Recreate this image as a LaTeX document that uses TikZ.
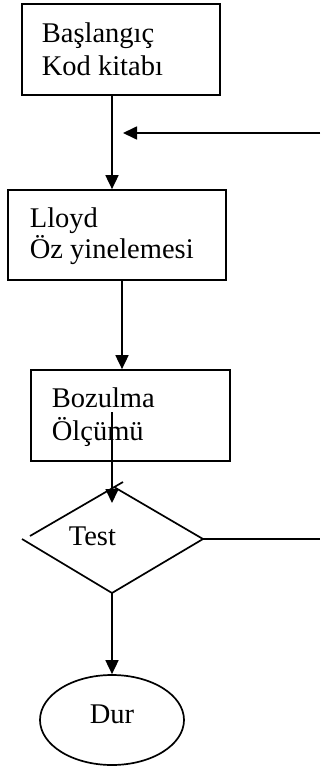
\documentclass[tikz,border=0pt]{standalone}
\usepackage{fontspec}
\setmainfont{Liberation Serif}
\usetikzlibrary{arrows.meta,shapes.geometric}

\begin{document}
\begin{tikzpicture}[x=1pt,y=-1pt,
  line width=1.7pt,
  box/.style={draw, rectangle, inner sep=0pt},
  txt/.style={inner sep=0pt, anchor=base west, font=\fontsize{28.5}{32}\selectfont},
  arr/.style={-{Triangle[length=14pt,width=13pt]}},
  endnode/.style={draw, ellipse, inner sep=0pt}]

  \useasboundingbox (0,0) rectangle (321,771);

  % guide columns for the vertical connectors
  \coordinate (axis) at (112,0);
  \coordinate (axisb) at (122,0);

  % process boxes
  \node[box, minimum width=198pt, minimum height=91pt] (init) at (121,49.5) {};
  \node[box, minimum width=218pt, minimum height=90pt] (lloyd) at (117,235) {};
  \node[box, minimum width=199pt, minimum height=91pt] (dist) at (130.5,415.5) {};

  \node[txt] (initA) at (41,42) {Başlangıç};
  \node[txt] (initB) at (41,75) {Kod kitabı};
  \node[txt] (lloydA) at (29,227) {Lloyd};
  \node[txt] (lloydB) at (29,258) {Öz yinelemesi};
  \node[txt] (distA) at (51,407) {Bozulma};
  \node[txt] (distB) at (51,440) {Ölçümü};

  % decision diamond, drawn edge by edge
  \coordinate (dT) at (114,487);
  \coordinate (dR) at (203,539);
  \coordinate (dB) at (112,593);
  \coordinate (dL) at (22,539);
  \coordinate (dLu) at (30,536);
  \coordinate (dTx) at (123,482);
  \draw (dLu) -- (dTx);
  \draw (dT) -- (dR) -- (dB) -- (dL);
  \node[txt] (test) at (68,545) {Test};

  % stop
  \node[endnode, minimum width=144pt, minimum height=90pt] (stop) at (112,720) {};
  \node[inner sep=0pt, anchor=base, font=\fontsize{28.5}{32}\selectfont] (stopT) at (112,723) {Dur};

  % connectors
  \draw[arr] (init.south -| axis) -- (lloyd.north -| axis);
  \draw[arr] (lloyd.south -| axisb) -- (dist.north -| axisb);
  \coordinate (inner) at (112,412);
  \coordinate (dtip) at (112,503);
  \draw[arr] (inner) -- (dtip);
  \draw[arr] (dB) -- (stop.north);

  % loop-back lines
  \coordinate (fbin) at (320,133);
  \coordinate (fbtip) at (123,133);
  \draw[arr] (fbin) -- (fbtip);
  \coordinate (fbout) at (320,539);
  \draw (dR) -- (fbout);
\end{tikzpicture}
\end{document}
